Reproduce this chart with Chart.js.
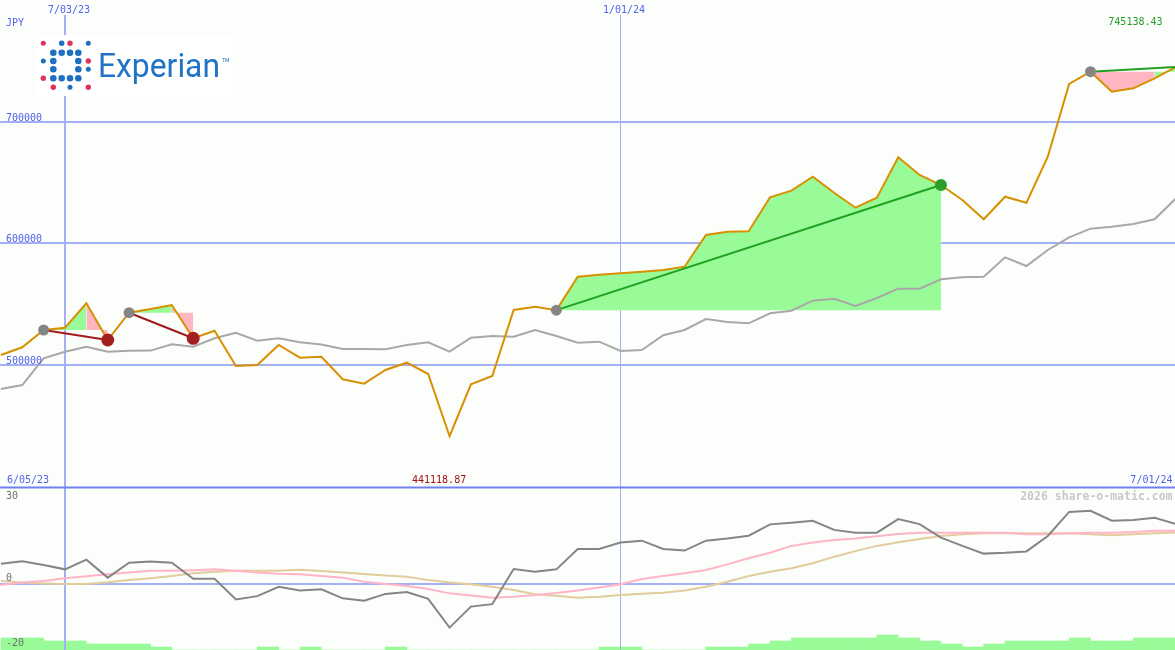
<!DOCTYPE html>
<html><head><meta charset="utf-8">
<script src="https://cdn.jsdelivr.net/npm/chart.js@4/dist/chart.umd.min.js"></script>
<style>html,body{margin:0;padding:0;background:#fcfefc;overflow:hidden}
#wrap{width:1175px;height:650px;position:relative}</style>
</head><body><div id="wrap"><canvas id="c" width="1175" height="650"></canvas></div>
<script>
// ---------- data (weekly, index 0 = 6/12/23 ... 55 = 7/01/24) ----------
const price = [507980, 514320, 528560, 530450, 550540, 520330, 542800, 545850, 549140, 521730,
  527990, 498930, 499750, 516220, 505760, 506590, 487980, 484360, 495640, 501650,
  492340, 441118.87, 483870, 490700, 545020, 547740, 544900, 572430, 574080, 575230,
  576540, 577940, 580660, 606750, 609470, 609790, 637780, 643210, 654730, 641560,
  629220, 637450, 670700, 656130, 647900, 635560, 619670, 638270, 633330, 671190,
  731030, 741150, 724690, 727490, 735720, 745138.43];
const priceAvg = [480000, 483290, 505270, 510700, 514810, 510700, 511520, 511600, 516790, 514810,
  521730, 526340, 519750, 521730, 518440, 516620, 512920, 512900, 512680, 516220,
  518440, 510700, 522220, 523620, 523040, 528560, 523620, 518110, 518930, 511270,
  512100, 524200, 528560, 537610, 535140, 534070, 542310, 544440, 552670, 554320,
  548310, 554900, 562550, 562550, 570290, 571930, 572430, 588390, 581230, 594400,
  604860, 611940, 613580, 615800, 619670, 636950];
const oscMain = [7.2, 8.1, 6.8, 5.2, 8.7, 2.2, 7.6, 8.0, 7.6, 1.8,
  1.8, -5.7, -4.5, -1.1, -2.5, -2.0, -5.3, -6.2, -3.7, -3.0,
  -5.5, -15.9, -8.3, -7.4, 5.3, 4.3, 5.2, 12.6, 12.6, 14.9,
  15.6, 12.6, 12.0, 15.6, 16.4, 17.4, 21.5, 22.1, 22.8, 19.5,
  18.5, 18.5, 23.4, 21.6, 16.7, 13.7, 10.9, 11.2, 11.7, 17.3,
  26.0, 26.4, 22.8, 23.1, 23.9, 21.6];
const oscFast = [-0.5, 0.4, 1.0, 2.0, 2.7, 3.4, 4.1, 4.7, 4.7, 4.9,
  5.2, 4.7, 4.1, 3.6, 3.4, 2.8, 2.2, 0.7, -0.1, -0.8,
  -1.9, -3.5, -4.3, -5.1, -4.7, -4.1, -3.4, -2.5, -1.4, -0.2,
  1.7, 2.8, 3.8, 5.0, 7.0, 9.2, 11.2, 13.7, 14.9, 15.8,
  16.4, 17.2, 18.0, 18.5, 18.5, 18.5, 18.5, 18.5, 17.9, 17.9,
  18.3, 18.5, 18.5, 18.7, 19.2, 19.2];
const oscSlow = [1.0, 0.4, 0.1, -0.1, -0.1, 0.5, 1.3, 2.0, 2.8, 3.8,
  4.3, 4.7, 4.7, 4.7, 5.1, 4.6, 4.1, 3.5, 3.0, 2.5,
  1.3, 0.4, -0.2, -1.1, -2.3, -3.8, -4.4, -5.1, -4.7, -4.1,
  -3.6, -3.3, -2.5, -1.1, 0.7, 2.8, 4.3, 5.6, 7.4, 9.8,
  11.8, 13.7, 15.0, 16.2, 17.3, 17.9, 18.3, 18.3, 18.3, 18.3,
  18.3, 17.9, 17.6, 17.9, 18.3, 18.6];
// volume level for each week interval [i, i+1]
const volume = [4, 4, 3, 3, 2, 2, 2, 1, 0, 0, 0, 0, 1, 0, 1, 0, 0, 0, 1, 0,
  0, 0, 0, 0, 0, 0, 0, 0, 1, 1, 0, 0, 0, 1, 1, 2, 3, 4, 4, 4,
  4, 5, 4, 3, 2, 1, 2, 3, 3, 3, 4, 3, 3, 4, 4];
const tradeEntry = [2, 6, 26, 51];
const tradeExit = [5, 9, 44, 55];
const tradeOutcome = ['loss', 'loss', 'win', 'open'];
const dateTickIdx = [3, 29];
const dateTickLabels = ['7/03/23', '1/01/24'];
const dateTickWidth = [2, 1];
const priceTicks = [700000, 600000, 500000];
const oscTicks = [30, 0, -20];
const startLabel = '6/05/23';
const endLabel = '7/01/24';
const currency = 'JPY';
const lastPriceLabel = '745138.43';
const lowLabel = '441118.87';
const watermark = '2026 share-o-matic.com';

// ---------- style / layout ----------
const X_MIN = -0.0424, X_MAX = 54.954;
const Y_MIN = 265185, Y_MAX = 800165;
const O_MIN = -24.02, O_MAX = 211.49;
const V_MAX = 216.67;
const PANEL_SPLIT = 487.5;
const OSC_LABEL_DY = [-1.6, -2.7, 6.7];
const GRID = '#a4b0f4', SEP = '#7080f0', LBL = '#5262ee';
const GREEN_FILL = '#98fb98', PINK_FILL = '#ffb6c1';
const MONO = '"DejaVu Sans Mono", monospace';

const pts = arr => arr.map((v, i) => ({x: i, y: v}));
const datasets = [];
datasets.push({type: 'bar', data: volume.map((v, i) => ({x: i + 0.5, y: v})), yAxisID: 'yv',
  backgroundColor: GREEN_FILL, borderWidth: 0, barPercentage: 1, categoryPercentage: 1, order: 100});
tradeEntry.forEach((e, k) => {
  const x = tradeExit[k];
  const ref = price[e];
  datasets.push({type: 'line', yAxisID: 'y', order: 50,
    data: price.map((v, i) => ({x: i, y: (i >= e && i <= x) ? v : null})),
    borderColor: 'rgba(0,0,0,0)', borderWidth: 0, pointRadius: 0, spanGaps: false,
    backgroundColor: GREEN_FILL, fill: {value: ref},
    segment: {backgroundColor: c => (price[c.p1DataIndex] > ref ? GREEN_FILL : PINK_FILL)}});
});
const lineDs = (arr, axis, color, order) => ({type: 'line', data: pts(arr), yAxisID: axis,
  borderColor: color, borderWidth: 2, pointRadius: 0, fill: false, order});
datasets.push(lineDs(priceAvg, 'y', '#a8a8a8', 30));
datasets.push(lineDs(oscSlow, 'yo', '#e2cc9c', 30));
datasets.push(lineDs(oscFast, 'yo', '#ffb4c8', 29));
datasets.push(lineDs(oscMain, 'yo', '#858585', 28));
datasets.push(lineDs(price, 'y', '#d89000', 20));
tradeEntry.forEach((e, k) => {
  const x = tradeExit[k];
  const col = tradeOutcome[k] === 'loss' ? '#a01c1c' : '#22a022';
  datasets.push({type: 'line', yAxisID: 'y', order: 10, data: [{x: e, y: price[e]}, {x: x, y: price[x]}],
    borderColor: col, borderWidth: 2, pointRadius: 0, fill: false});
});
// markers
const entryPts = tradeEntry.map(i => ({x: i, y: price[i]}));
const lossPts = tradeExit.filter((_, k) => tradeOutcome[k] === 'loss').map(i => ({x: i, y: price[i]}));
const winPts = tradeExit.filter((_, k) => tradeOutcome[k] === 'win').map(i => ({x: i, y: price[i]}));
const markerDs = (data, color, r) => ({type: 'line', yAxisID: 'y', order: 2, data, showLine: false,
  pointRadius: r, pointBackgroundColor: color, pointBorderWidth: 0, borderColor: color});
datasets.push(markerDs(entryPts, '#858585', 5.5));
datasets.push(markerDs(lossPts, '#a31e1e', 6.5));
datasets.push(markerDs(winPts, '#2a9d2a', 6));

const logoDots = [
  [43.3, 43.3, 2.5, 'r'], [61.7, 43.3, 2.7, 'b'], [70, 43.3, 2.7, 'r'], [88.3, 43.3, 2.5, 'b'],
  [53.3, 52.7, 3.3, 'b'], [61.7, 52.7, 3.3, 'b'], [70, 52.7, 3.3, 'b'], [78.3, 52.7, 3.3, 'b'],
  [43.3, 61, 2.5, 'b'], [53.3, 61, 3.3, 'b'], [78.3, 61, 3.3, 'b'], [88.3, 61, 2.7, 'r'],
  [53.3, 69.3, 3.3, 'b'], [78.3, 69.3, 3.3, 'b'], [88.3, 69.3, 2.5, 'b'],
  [43.3, 78.3, 2.7, 'r'], [53.3, 78.3, 3.3, 'b'], [61.7, 78.3, 3.3, 'b'], [70, 78.3, 3.3, 'b'], [78.3, 78.3, 3.3, 'b'],
  [53.3, 87.3, 2.7, 'r'], [70, 87.3, 2.5, 'b'], [88.3, 87.3, 2.7, 'r']];

const decor = {
  id: 'decor',
  beforeDraw(chart) {
    const ctx = chart.ctx;
    ctx.save(); ctx.fillStyle = '#fcfefc'; ctx.fillRect(0, 0, chart.width, chart.height); ctx.restore();
  },
  afterDatasetDraw(chart, args) {
    if (args.index !== 0) return;
    const ctx = chart.ctx, xs = chart.scales.x, ys = chart.scales.y, yo = chart.scales.yo;
    ctx.save();
    ctx.strokeStyle = GRID;
    ctx.lineWidth = 2;
    priceTicks.forEach(v => {
      const py = Math.round(ys.getPixelForValue(v));
      ctx.beginPath(); ctx.moveTo(0, py); ctx.lineTo(chart.width, py); ctx.stroke();
    });
    const p0 = Math.round(yo.getPixelForValue(0));
    ctx.beginPath(); ctx.moveTo(0, p0); ctx.lineTo(chart.width, p0); ctx.stroke();
    dateTickIdx.forEach((d, k) => {
      const w = dateTickWidth[k];
      let px = xs.getPixelForValue(d);
      px = w === 2 ? Math.round(px) : Math.floor(px) + 0.5;
      ctx.lineWidth = w;
      ctx.beginPath(); ctx.moveTo(px, 15); ctx.lineTo(px, chart.height); ctx.stroke();
    });
    ctx.strokeStyle = SEP; ctx.lineWidth = 2;
    ctx.beginPath(); ctx.moveTo(0, PANEL_SPLIT); ctx.lineTo(chart.width, PANEL_SPLIT); ctx.stroke();
    // logo
    ctx.fillStyle = '#ffffff';
    ctx.fillRect(36, 35, 198, 61);
    logoDots.forEach(([x, y, r, c]) => {
      ctx.fillStyle = c === 'r' ? '#e0305c' : '#1f70c2';
      ctx.beginPath(); ctx.arc(x, y, r, 0, Math.PI * 2); ctx.fill();
    });
    ctx.fillStyle = '#2173c6';
    ctx.font = '33px Roboto';
    const tw = ctx.measureText('Experian').width;
    ctx.save(); ctx.translate(98, 77.3); ctx.scale(122 / tw, 1);
    ctx.textBaseline = 'alphabetic'; ctx.fillText('Experian', 0, 0); ctx.restore();
    ctx.font = '5px Roboto'; ctx.fillText('TM', 222, 62);
    ctx.restore();
  },
  afterDraw(chart) {
    const ctx = chart.ctx, xs = chart.scales.x, ys = chart.scales.y, yo = chart.scales.yo;
    ctx.save();
    ctx.textBaseline = 'alphabetic';
    ctx.font = '10px ' + MONO;
    ctx.fillStyle = LBL;
    ctx.textAlign = 'left';
    dateTickIdx.forEach((d, k) => ctx.fillText(dateTickLabels[k], Math.round(xs.getPixelForValue(d)) - 17, 13));
    ctx.fillText(currency, 6, 26);
    priceTicks.forEach(v => ctx.fillText(String(v), 6, Math.round(ys.getPixelForValue(v)) - 1.5));
    ctx.fillText(startLabel, 7, 483);
    ctx.textAlign = 'right';
    ctx.fillText(endLabel, 1172.5, 483);
    ctx.fillStyle = '#22a022';
    ctx.fillText(lastPriceLabel, 1162.5, 25);
    ctx.fillStyle = '#a01010';
    ctx.textAlign = 'left';
    const lowIdx = price.indexOf(Math.min(...price));
    ctx.fillText(lowLabel, Math.round(xs.getPixelForValue(lowIdx)) - 38, 483);
    ctx.fillStyle = '#707070';
    oscTicks.forEach((v, k) => ctx.fillText(String(v), 6, yo.getPixelForValue(v) + OSC_LABEL_DY[k]));
    ctx.textAlign = 'right';
    ctx.font = 'bold 11.5px ' + MONO;
    ctx.fillStyle = '#c8c8c8';
    ctx.fillText(watermark, 1172.5, 500);
    ctx.restore();
  }
};

new Chart(document.getElementById('c'), {
  type: 'line',
  data: {datasets},
  options: {
    responsive: false, animation: false, events: [],
    layout: {padding: 0, autoPadding: false},
    elements: {line: {tension: 0}, point: {radius: 0}},
    plugins: {legend: {display: false}, tooltip: {enabled: false}, title: {display: false}},
    scales: {
      x: {type: 'linear', min: X_MIN, max: X_MAX, display: false, offset: false, bounds: 'data'},
      y: {type: 'linear', min: Y_MIN, max: Y_MAX, display: false, bounds: 'data'},
      yo: {type: 'linear', min: O_MIN, max: O_MAX, display: false, bounds: 'data'},
      yv: {type: 'linear', min: 0, max: V_MAX, display: false, bounds: 'data'}
    }
  },
  plugins: [decor]
});
</script></body></html>
